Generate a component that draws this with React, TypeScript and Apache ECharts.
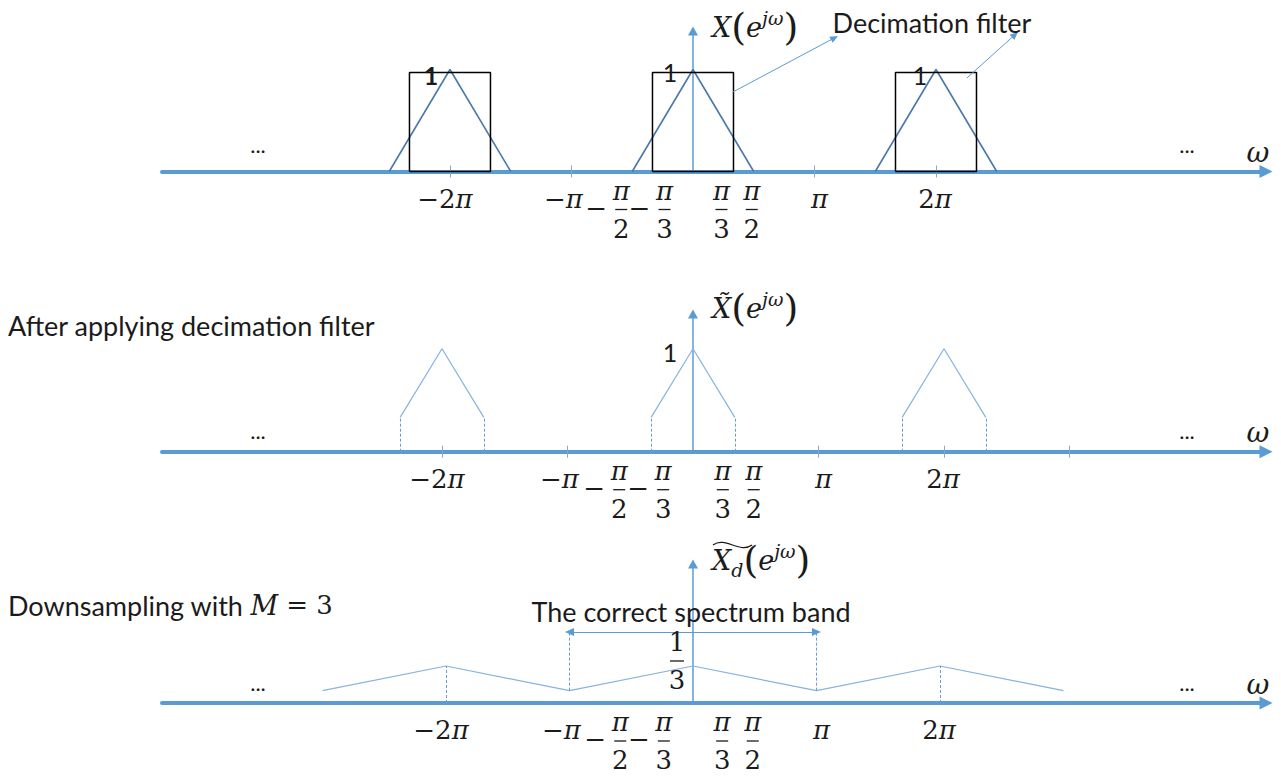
import { useEffect, useRef } from 'react';
import * as echarts from 'echarts';

// Frequencies are stored in multiples of π, magnitudes are linear.

// X(e^{jω}): unit triangles of half-width π/2 repeating every 2π
const inputCopies: number[][][] = [
  [[-2.5, 0], [-2, 1], [-1.5, 0]],
  [[-0.5, 0], [0, 1], [0.5, 0]],
  [[1.5, 0], [2, 1], [2.5, 0]],
];

// Decimation filter passbands |ω − 2πk| < π/3
const filterBoxes: number[][][] = [
  [[-7 / 3, 0], [-7 / 3, 0.97], [-5 / 3, 0.97], [-5 / 3, 0], [-7 / 3, 0]],
  [[-1 / 3, 0], [-1 / 3, 0.97], [1 / 3, 0.97], [1 / 3, 0], [-1 / 3, 0]],
  [[5 / 3, 0], [5 / 3, 0.97], [7 / 3, 0.97], [7 / 3, 0], [5 / 3, 0]],
];

// Callout arrows pointing at the filter boxes
const filterPointers: number[][][] = [
  [[0.33, 0.78], [1.165, 1.31]],
  [[2.255, 0.917], [2.65, 1.341]],
];

// X̃(e^{jω}) after filtering: triangle tops cut at ±π/3
const filteredCopies: number[][][] = [
  [[-7 / 3, 1 / 3], [-2, 1], [-5 / 3, 1 / 3]],
  [[-1 / 3, 1 / 3], [0, 1], [1 / 3, 1 / 3]],
  [[5 / 3, 1 / 3], [2, 1], [7 / 3, 1 / 3]],
];
const filteredEdges: number[][][] = [
  [[-7 / 3, 0], [-7 / 3, 1 / 3]],
  [[-5 / 3, 0], [-5 / 3, 1 / 3]],
  [[-1 / 3, 0], [-1 / 3, 1 / 3]],
  [[1 / 3, 0], [1 / 3, 1 / 3]],
  [[5 / 3, 0], [5 / 3, 1 / 3]],
  [[7 / 3, 0], [7 / 3, 1 / 3]],
];

// X̃_d(e^{jω}) after downsampling by M = 3
const downsampled: number[][] = [
  [-3, 1 / 9], [-2, 1 / 3], [-1, 1 / 9], [0, 1 / 3], [1, 1 / 9], [2, 1 / 3], [3, 1 / 9],
];
const downsampledDrops: number[][][] = [
  [[-2, 0], [-2, 1 / 3]],
  [[2, 0], [2, 1 / 3]],
  [[-1, 1 / 9], [-1, 0.64]],
  [[1, 1 / 9], [1, 0.64]],
];
const correctBand: number[][] = [[-1, 0.64], [1, 0.64]];

// Axis ticks and their labels
const ticksInput = [-2, -1, 1, 2];
const ticksFiltered = [-2, -1, 1, 2, 3];
const wholeLabels = [
  { at: -2, coef: '−2' },
  { at: -1, coef: '−' },
  { at: 1, coef: '' },
  { at: 2, coef: '2' },
];
const fractionLabels = [
  { at: -1 / 2, sign: '−', den: '2' },
  { at: -1 / 3, sign: '−', den: '3' },
  { at: 1 / 3, sign: '', den: '3' },
  { at: 1 / 2, sign: '', den: '2' },
];

const INK = '#1b1b1b';
const AXIS = '#5B9BD5';
const TRI = '#4A78A8';
const LIGHT = '#86B3DF';
const DASH = '#6A9CD0';
const TICK = '#8DA6C2';
const MATH = "'DejaVu Serif', serif";
const SANS = "Lato, 'Open Sans', sans-serif";

const panels = [
  { top: 31, height: 140.5, xMin: -4.37, xMax: 4.716, yMax: 1.377, ticks: ticksInput, dots: -21 },
  { top: 314, height: 137.7, xMin: -4.231, xMax: 4.566, yMax: 1.337, ticks: ticksFiltered, dots: -15 },
  { top: 564, height: 139, xMin: -4.3, xMax: 4.64, yMax: 1.252, ticks: [] as number[], dots: -15 },
];

const wholeDx: Record<string, number> = { '-2': -5, '-1': -8, '1': 5, '2': -1 };
const fractionDx = [-11, 12, -12, -2];

const mathRich: any = {
  u: { fontFamily: MATH, fontSize: 26, fill: INK },
  i: { fontFamily: MATH, fontSize: 26, fontStyle: 'italic', fill: INK },
  L: { fontFamily: MATH, fontSize: 27, fontStyle: 'italic', fill: INK },
  p: { fontFamily: MATH, fontSize: 38, fill: INK },
  s: { fontFamily: MATH, fontSize: 19, fontStyle: 'italic', fill: INK, verticalAlign: 'top' },
  b: { fontFamily: MATH, fontSize: 19, fontStyle: 'italic', fill: INK, verticalAlign: 'bottom' },
  w: { fontFamily: MATH, fontSize: 28, fontStyle: 'italic', fill: INK },
  t: { fontFamily: SANS, fontSize: 27, fill: INK },
};

function line(gi: number, data: any[], color: string, width: number, extra: any = {}) {
  return {
    type: 'line',
    xAxisIndex: gi * 2,
    yAxisIndex: gi * 2,
    data,
    symbol: 'none',
    showSymbol: false,
    silent: true,
    clip: false,
    z: 3,
    lineStyle: { color, width },
    ...extra,
  };
}

function segments(list: number[][][]) {
  return list.map(([a, b]) => [{ coord: a }, { coord: b }]);
}

export default function App() {
  const ref = useRef<HTMLDivElement>(null);

  useEffect(() => {
    const chart = echarts.init(ref.current!, undefined, { renderer: 'svg' });

    const grid = panels.map((p) => ({
      left: 162,
      width: 1104,
      top: p.top,
      height: p.height,
      containLabel: false,
      outerBoundsMode: 'none',
    }));

    const xAxis: any[] = [];
    const yAxis: any[] = [];
    panels.forEach((p, i) => {
      xAxis.push({
        gridIndex: i,
        type: 'value',
        min: p.xMin,
        max: p.xMax,
        position: 'bottom',
        axisLine: {
          onZero: true,
          onZeroAxisIndex: i * 2,
          symbol: ['none', 'triangle'],
          symbolSize: [13, 13],
          lineStyle: { color: AXIS, width: 4 },
        },
        axisTick: { show: p.ticks.length > 0, customValues: p.ticks, length: 6, lineStyle: { color: TICK, width: 1 } },
        axisLabel: { show: false },
        splitLine: { show: false },
      });
      // companion axis on the same baseline so the ticks also stick out above it
      xAxis.push({
        gridIndex: i,
        type: 'value',
        min: p.xMin,
        max: p.xMax,
        position: 'top',
        axisLine: { show: true, onZero: true, onZeroAxisIndex: i * 2 + 1, lineStyle: { opacity: 0 } },
        axisTick: { show: p.ticks.length > 0, customValues: p.ticks, length: 6, lineStyle: { color: TICK, width: 1 } },
        axisLabel: { show: false },
        splitLine: { show: false },
      });
      yAxis.push({
        gridIndex: i,
        type: 'value',
        min: 0,
        max: p.yMax,
        axisLine: {
          show: true,
          onZero: true,
          onZeroAxisIndex: i * 2,
          symbol: ['none', 'triangle'],
          symbolSize: [10, 9],
          lineStyle: { color: AXIS, width: 1.5 },
        },
        axisTick: { show: false },
        axisLabel: { show: false },
        splitLine: { show: false },
      });
      yAxis.push({
        gridIndex: i,
        type: 'value',
        min: 0,
        max: p.yMax,
        position: 'right',
        axisLine: { show: false, onZero: false },
        axisTick: { show: false },
        axisLabel: { show: false },
        splitLine: { show: false },
      });
    });

    const series: any[] = [];
    inputCopies.forEach((d) => series.push(line(0, d, TRI, 1.6)));
    filterBoxes.forEach((d, k) =>
      series.push(
        line(0, d, '#000', 1.5, k === 0
          ? {
              markLine: {
                silent: true,
                symbol: ['none', 'triangle'],
                symbolSize: [7, 8],
                label: { show: false },
                lineStyle: { color: AXIS, width: 1, type: 'solid' },
                data: segments(filterPointers),
              },
            }
          : {}),
      ),
    );
    filteredCopies.forEach((d, k) =>
      series.push(
        line(1, d, LIGHT, 1.2, k === 0
          ? {
              markLine: {
                silent: true,
                symbol: ['none', 'none'],
                label: { show: false },
                lineStyle: { color: DASH, width: 1, type: [3, 2] },
                data: segments(filteredEdges),
              },
            }
          : {}),
      ),
    );
    series.push(
      line(2, downsampled, LIGHT, 1.2, {
        markLine: {
          silent: true,
          symbol: ['none', 'none'],
          label: { show: false },
          lineStyle: { color: DASH, width: 1, type: [3, 2] },
          data: [
            ...segments(downsampledDrops),
            [
              { coord: correctBand[0], symbol: 'triangle', symbolSize: [8, 9], lineStyle: { color: AXIS, width: 1.2, type: 'solid' } },
              { coord: correctBand[1], symbol: 'triangle', symbolSize: [8, 9] },
            ],
          ],
        },
      }),
    );

    chart.setOption({ animation: false, backgroundColor: '#fff', grid, xAxis, yAxis, series });

    const px = (gi: number, x: number, y: number) =>
      chart.convertToPixel({ xAxisIndex: gi * 2, yAxisIndex: gi * 2 }, [x, y]) as number[];
    const g: any[] = [];
    const text = (x: number, y: number, content: string, style: any = {}) =>
      g.push({
        type: 'text',
        x,
        y,
        silent: true,
        z: 20,
        style: {
          text: content,
          fill: INK,
          fontFamily: MATH,
          fontSize: 26,
          align: 'center',
          verticalAlign: 'middle',
          textAlign: 'center',
          textVerticalAlign: 'middle',
          rich: mathRich,
          ...style,
        },
      });
    const seg = (x1: number, y1: number, x2: number, y2: number, color = INK, w = 1.3) =>
      g.push({ type: 'line', silent: true, z: 20, shape: { x1, y1, x2, y2 }, style: { stroke: color, lineWidth: w } });

    panels.forEach((p, i) => {
      const [x0, axisY] = px(i, 0, 0);
      const yTop = px(i, 0, p.yMax)[1];
      const xEnd = px(i, p.xMax, 0)[0];

      wholeLabels.forEach((l) => {
        const x = px(i, l.at, 0)[0] + wholeDx[String(l.at)];
        text(x, axisY + 27, (l.coef ? `{u|${l.coef}}` : '') + '{i|π}');
      });
      fractionLabels.forEach((l, k) => {
        const x = px(i, l.at, 0)[0] + fractionDx[k];
        text(x, axisY + 19, '{i|π}');
        seg(x - 6, axisY + 38, x + 6, axisY + 38);
        text(x, axisY + 57, `{u|${l.den}}`);
        if (l.sign) text(x - 25, axisY + 36, `{u|${l.sign}}`);
      });

      text(xEnd - 8, axisY - 19, '{w|ω}');
      text(258, axisY + p.dots - 6, '...', { fontFamily: SANS, fontSize: 22, rich: undefined });
      text(1187, axisY + p.dots - 6, '...', { fontFamily: SANS, fontSize: 22, rich: undefined });

      const lx = x0 + 19;
      if (i === 0) {
        text(lx, yTop - 4, '{L|X}{p|(}{L|e}{s|jω}{p|)}', { align: 'left', textAlign: 'left' });
      } else if (i === 1) {
        text(lx, yTop - 6, '{L|X\u0303}{p|(}{L|e}{s|jω}{p|)}', { align: 'left', textAlign: 'left' });
      } else {
        text(lx, yTop - 4, '{L|X}{b|d}{p|(}{L|e}{s|jω}{p|)}', { align: 'left', textAlign: 'left' });
        g.push({
          type: 'bezierCurve',
          silent: true,
          z: 20,
          shape: { x1: lx + 1, y1: yTop - 19, x2: lx + 40, y2: yTop - 19, cpx1: lx + 13, cpy1: yTop - 28, cpx2: lx + 28, cpy2: yTop - 10 },
          style: { stroke: INK, lineWidth: 1.2, fill: 'none' },
        });
      }
    });

    // Panel 1 annotations
    const apexDx = [-19, -23, -16];
    const apexDy = [6, 3, 6];
    inputCopies.forEach((d, k) => {
      const [ax, ay] = px(0, d[1][0], d[1][1]);
      text(ax + apexDx[k], ay + apexDy[k], '1', {
        fontFamily: SANS,
        fontSize: 25,
        fontWeight: k === 0 ? 'bold' : 'normal',
        rich: undefined,
      });
    });
    const tip = px(0, filterPointers[0][1][0], filterPointers[0][1][1]);
    text(tip[0] - 2, tip[1] - 15, 'Decimation filter', { fontFamily: SANS, fontSize: 27, align: 'left', textAlign: 'left', rich: undefined });

    // Panel 2 annotations
    const apex2 = px(1, filteredCopies[1][1][0], filteredCopies[1][1][1]);
    text(apex2[0] - 23, apex2[1] + 3, '1', { fontFamily: SANS, fontSize: 25, rich: undefined });
    text(8, 325, 'After applying decimation filter', { fontFamily: SANS, fontSize: 27, align: 'left', textAlign: 'left', rich: undefined });

    // Panel 3 annotations
    const peak3 = px(2, downsampled[3][0], downsampled[3][1]);
    text(peak3[0] - 16, peak3[1] - 24, '{u|1}');
    seg(peak3[0] - 23, peak3[1] - 5, peak3[0] - 9, peak3[1] - 5);
    text(peak3[0] - 16, peak3[1] + 14, '{u|3}');
    const band = px(2, 0, correctBand[0][1]);
    text(band[0] - 2, band[1] - 20, 'The correct spectrum band', { fontFamily: SANS, fontSize: 27, rich: undefined });
    text(8, 605, '{t|Downsampling with }{L|M}{u| = 3}', { align: 'left', textAlign: 'left' });

    chart.setOption({ graphic: { elements: g } });

    return () => chart.dispose();
  }, []);

  return (
    <div
      ref={ref}
      style={{ position: 'fixed', left: 0, top: 0, width: 1281, height: 776, background: '#fff' }}
    />
  );
}
